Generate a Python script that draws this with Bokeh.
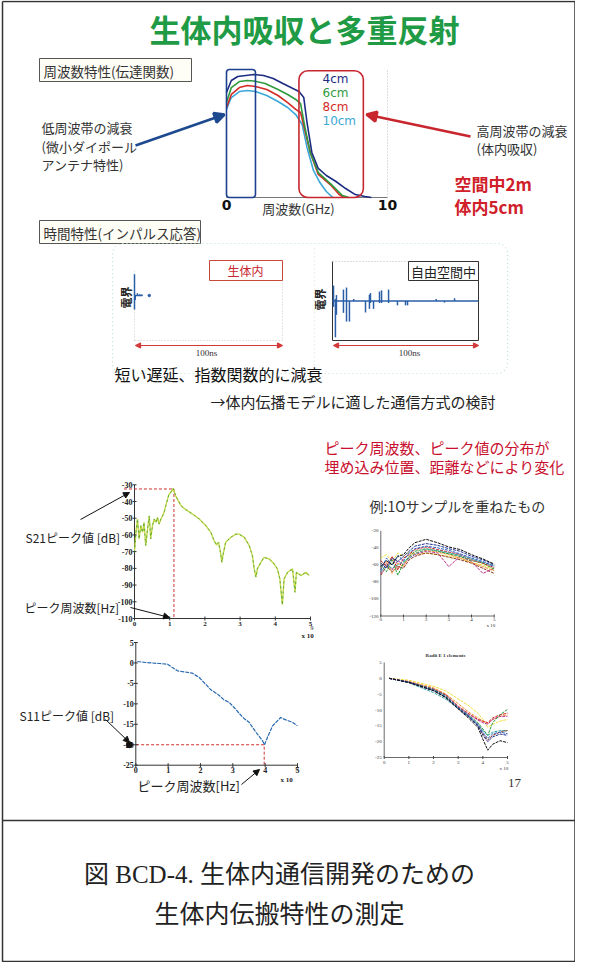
import numpy as np
from bokeh.plotting import figure
from bokeh.models import Range1d, Arrow, VeeHead, NormalHead
from bokeh.embed import file_html
from bokeh.resources import INLINE
from bokeh.core.properties import value

JP = "Noto Sans CJK JP"
SERIF = "Liberation Serif, Noto Sans CJK JP"

# ================= DATA =================
title_text = "生体内吸収と多重反射"

# --- transfer function (relative level) vs frequency [GHz] ---
tf_f_4cm = [0, 0.3, 0.7, 1.2, 1.7, 2.3, 2.9, 3.5, 4.0, 4.5, 4.8, 5.0, 5.3, 5.7, 6.2, 6.8, 7.4, 8.0, 8.6, 9.0]
tf_l_4cm = [82, 91.4, 94.5, 95.3, 96.1, 95.3, 93, 89, 85.9, 82.8, 78.1, 58.6, 35.2, 22.7, 17.2, 12.5, 7, 2.3, 0.8, 0]
tf_f_6cm = [0, 0.3, 0.8, 1.3, 1.7, 2.4, 3.2, 3.8, 4.3, 4.6, 4.9, 5.2, 5.7, 6.5, 7.2, 7.6]
tf_l_6cm = [74.2, 85.9, 90.6, 91.4, 91, 89.1, 84.4, 80.5, 76.6, 73.4, 53.1, 35.2, 19.5, 10.2, 1.6, 0]
tf_f_8cm = [0, 0.3, 0.8, 1.3, 1.8, 2.5, 3.2, 3.8, 4.3, 4.6, 4.9, 5.2, 5.7, 6.5, 7.0, 7.3]
tf_l_8cm = [70.3, 80.5, 85.9, 87.5, 86.7, 84.4, 79.7, 74.2, 68.8, 66.4, 50.8, 35.2, 18, 9.4, 2.3, 0]
tf_f_10cm = [0, 0.3, 0.8, 1.3, 1.8, 2.5, 3.2, 3.8, 4.3, 4.7, 5.0, 5.4, 5.8, 6.2, 6.6]
tf_l_10cm = [68.8, 78.1, 82.8, 83.6, 82.8, 79.7, 75, 70.3, 64.8, 57, 39.1, 21.1, 11.7, 4.7, 0]
tf_labels = ["4cm", "6cm", "8cm", "10cm"]
tf_colors = ["#1c2c82", "#2e9a3e", "#d32a26", "#3aa8d8"]
tf_xticks = [0, 10]
low_band = [0, 1.8]
high_band = [4.5, 8.5]

# --- impulse responses: time [ns], amplitude ---
body_t = [0.0, 0.5, 2.0, 3.5, 5.0]
body_up = [0.47, 0.0, 0.05, 0.03, 0.02]
body_down = [-0.31, -0.10, 0.0, 0.0, 0.0]
body_dot_t = [10.0]
free_t = [0.7, 2.0, 2.7, 7.5, 9.6, 11.6, 14.5, 22.6, 25.3, 26.0, 28.1, 32.2, 33.6, 38.4, 44.5, 50.0, 51.4, 71.0, 76.7, 83.6]
free_up = [0.39, 0.05, 0.15, 0.29, 0.34, 0.0, 0.05, 0.0, 0.16, 0.20, 0.0, 0.24, 0.27, 0.29, 0.0, 0.0, 0.0, 0.05, 0.0, 0.07]
free_down = [-0.15, -0.92, -0.35, -0.30, -0.52, -0.52, 0.0, -0.29, -0.20, -0.05, -0.20, -0.05, -0.05, -0.05, -0.11, -0.11, -0.11, 0.0, -0.04, 0.0]

# --- S21 vs frequency (x1e9 Hz) ---
s21_f = [0.0, 0.04, 0.085, 0.13, 0.18, 0.23, 0.27, 0.32, 0.37, 0.42, 0.46, 0.51, 0.56, 0.61, 0.65, 0.70, 0.75, 0.80,
         0.84, 0.89, 0.94, 0.98, 1.03, 1.10, 1.17, 1.32, 1.46, 1.65, 1.84, 2.03, 2.17, 2.26, 2.33, 2.39, 2.45, 2.48,
         2.52, 2.59, 2.74, 2.88, 2.97, 3.12, 3.26, 3.35, 3.40, 3.45, 3.49, 3.59, 3.68, 3.83, 3.97, 4.06, 4.13, 4.20,
         4.25, 4.35, 4.49, 4.56, 4.60, 4.73, 4.87, 4.96]
s21_db = [-70.4, -58.5, -50.5, -62.4, -54.5, -58.5, -52.5, -66.4, -56.5, -48.5, -62.4, -54.5, -50.5, -52.5, -49.5,
          -53.5, -50.5, -48.5, -46.5, -42.5, -38.6, -35.6, -34.6, -32.2, -36.6, -42.5, -44.9, -47.5, -50.5, -54.5,
          -58.5, -63.4, -66.0, -64.4, -71.4, -76.4, -71.4, -64.4, -61.4, -59.5, -59.5, -61.4, -66.4, -72.4, -80.3,
          -85.3, -80.3, -76.4, -73.4, -74.4, -77.4, -80.3, -86.3, -101.8, -86.3, -82.3, -80.3, -94.3, -82.3, -84.3,
          -82.3, -84.3]
s21_peak_f = 1.12
s21_peak_db = -32.5
s21_yticks = [-30, -40, -50, -60, -70, -80, -90, -100, -110]
s21_xticks = [0, 1, 2, 3, 4, 5]

# --- S11 vs frequency (x1e9 Hz) ---
s11_f = [0.05, 0.31, 0.72, 0.98, 1.13, 1.29, 1.49, 1.75, 1.96, 2.16, 2.32, 2.53, 2.73, 2.89, 3.04, 3.20, 3.35, 3.51,
         3.61, 3.76, 3.92, 3.98, 4.07, 4.23, 4.38, 4.48, 4.64, 4.85, 5.0]
s11_db = [0.35, 0.11, -0.13, -0.30, -1.11, -1.93, -2.17, -2.50, -3.56, -5.19, -6.57, -7.63, -9.02, -9.67, -10.89,
          -12.36, -13.58, -14.56, -15.78, -17.41, -19.04, -20.0, -18.23, -15.37, -14.15, -13.34, -13.91, -14.56, -15.37]
s11_peak_f = 3.97
s11_peak_db = -20.0
s11_yticks = [5, 0, -5, -10, -15, -20, -25]
s11_xticks = [0, 1, 2, 3, 4, 5]

# --- 10 overlaid samples: S21 ---
samp_f = [0, 0.25, 0.5, 0.75, 1.0, 1.25, 1.5, 2.0, 2.5, 3.0, 3.5, 4.0, 4.5, 5.0]
samp21_1 = [-62, -55, -60, -50, -48, -40, -34, -30, -34, -39, -42, -48, -53, -59]
samp21_2 = [-58, -64, -52, -56, -50, -44, -38, -35, -37, -41, -44, -50, -54, -60]
samp21_3 = [-66, -52, -60, -49, -55, -46, -41, -38, -40, -43, -47, -52, -56, -62]
samp21_4 = [-55, -62, -50, -66, -52, -48, -42, -39, -42, -45, -48, -54, -58, -63]
samp21_5 = [-70, -58, -66, -55, -60, -52, -48, -44, -46, -62, -50, -56, -70, -64]
samp21_6 = [-60, -68, -54, -72, -58, -50, -44, -41, -44, -47, -50, -55, -58, -65]
samp21_7 = [-52, -48, -56, -46, -50, -45, -48, -46, -48, -50, -52, -58, -60, -66]
samp21_8 = [-64, -56, -70, -58, -62, -50, -46, -43, -45, -48, -52, -57, -62, -67]
samp21_9 = [-68, -60, -64, -60, -56, -52, -47, -42, -43, -46, -49, -53, -57, -61]
samp21_10 = [-72, -62, -68, -62, -64, -54, -50, -46, -48, -51, -54, -58, -64, -70]
samp21_yticks = [-20, -40, -60, -80, -100, -120]
samp_xticks = [0, 1, 2, 3, 4, 5]

# --- 10 overlaid samples: S11 ---
samp11_f = [0.2, 1.0, 2.0, 2.5, 3.0, 3.4, 3.8, 4.0, 4.2, 4.4, 4.7, 5.0]
samp11_1 = [0.0, -1.3, -3.9, -6.1, -9.7, -12.4, -15.5, -19.2, -22.7, -20.8, -19.7, -20.3]
samp11_2 = [0.0, -1.3, -3.9, -6.0, -9.5, -12.0, -15.0, -18.0, -20.0, -18.5, -17.6, -18.0]
samp11_3 = [0.0, -1.2, -3.7, -5.8, -9.3, -11.6, -14.5, -17.0, -19.0, -17.5, -17.0, -17.5]
samp11_4 = [0.0, -1.1, -3.4, -5.2, -8.8, -11.0, -13.0, -13.5, -14.0, -12.5, -11.5, -11.0]
samp11_5 = [0.0, -1.1, -3.4, -5.3, -9.0, -11.2, -13.2, -14.0, -14.5, -13.0, -12.0, -12.0]
samp11_6 = [0.0, -1.2, -3.5, -5.5, -9.2, -11.5, -14.0, -16.0, -18.0, -14.0, -11.5, -9.8]
samp11_7 = [0.0, -0.6, -2.5, -4.0, -6.5, -8.5, -11.0, -13.0, -15.5, -14.5, -13.5, -13.0]
samp11_8 = [0.0, -1.0, -3.0, -5.0, -8.0, -10.5, -12.5, -13.5, -14.2, -13.0, -12.0, -11.5]
samp11_9 = [0.0, -1.4, -4.5, -6.6, -9.5, -12.0, -14.5, -16.5, -18.0, -17.0, -16.5, -16.5]
samp11_10 = [0.0, -1.3, -3.8, -6.0, -9.4, -11.8, -14.8, -17.5, -19.5, -18.0, -17.0, -16.5]
samp11_yticks = [5, 0, -5, -10, -15, -20, -25]
samp_colors = ["#111111", "#1f2f8f", "#2a62c9", "#d02020", "#c03090", "#2a9a3a", "#f0e040", "#f09030", "#30a0a0", "#8a3a2a"]

# ================= FIGURE =================
p = figure(width=575, height=962, x_range=Range1d(8, 583), y_range=Range1d(970, 8),
           output_backend="svg", toolbar_location=None, min_border=0)
p.axis.visible = False
p.grid.visible = False
p.outline_line_color = None
p.background_fill_color = "white"


def txt(target, x, y, s, size, color="#222222", align="left", font=JP, style="normal", angle=0.0, baseline="middle"):
    target.text(x=x if isinstance(x, list) else [x], y=y if isinstance(y, list) else [y],
                text=s if isinstance(s, list) else [s], text_font=value(font), text_font_size=size,
                text_color=color, text_align=align, text_baseline=baseline, text_font_style=style, angle=angle)


def arrow(x0, y0, x1, y1, color, w=1.0, size=7, both=False, head="vee"):
    H = VeeHead if head == "vee" else NormalHead
    end = H(size=size, line_color=color, fill_color=color, line_width=w)
    start = H(size=size, line_color=color, fill_color=color, line_width=w) if both else None
    a = Arrow(end=end, start=start, x_start=x0, y_start=y0, x_end=x1, y_end=y1, line_color=color, line_width=w)
    p.add_layout(a)


# page frame
p.line([10, 582.5, 582.5, 10, 10], [9, 9, 969, 969, 9], line_color="#333333", line_width=1.5)
p.line([10, 582.5], [828, 828], line_color="#333333", line_width=1.5)

# title
txt(p, 312, 36, title_text, "31px", color="#1f9a45", align="center", style="bold")

# section boxes
p.quad(left=[47], right=[199], top=[66], bottom=[89], fill_color="#fffef6", line_color="#555555", line_width=1)
txt(p, 51, 78, "周波数特性(伝達関数)", "13.5px", color="#333333")
p.quad(left=[47], right=[208], top=[228], bottom=[251], fill_color="#fffef6", line_color="#555555", line_width=1)
txt(p, 51, 240, "時間特性(インパルス応答)", "13.5px", color="#333333")

# ---------- transfer function plot ----------
sp1 = p.subplot(x_source=Range1d(0, 10), y_source=Range1d(0, 100),
                x_target=Range1d(234, 395), y_target=Range1d(205, 77))
sp1.line([0, 10], [0, 0], line_color="#777777", line_width=1)
sp1.line([0, 0], [0, 100], line_color="#bbbbbb", line_width=1, line_dash="1 2")
sp1.line([10, 10], [0, 100], line_color="#bbbbbb", line_width=1, line_dash="1 2")
for fx, lv, c in [(tf_f_10cm, tf_l_10cm, tf_colors[3]), (tf_f_8cm, tf_l_8cm, tf_colors[2]),
                  (tf_f_6cm, tf_l_6cm, tf_colors[1]), (tf_f_4cm, tf_l_4cm, tf_colors[0])]:
    sp1.line(fx, lv, line_color=c, line_width=1.6)
sp1.quad(left=[low_band[0]], right=[low_band[1]], bottom=[0], top=[100], fill_color=None,
         line_color="#1d3f8f", line_width=1.6, border_radius=3)
sp1.quad(left=[high_band[0]], right=[high_band[1]], bottom=[0], top=[99], fill_color=None,
         line_color="#c8262e", line_width=1.6, border_radius=9)
sp1.text(x=tf_xticks, y=[-6, -6], text=[str(t) for t in tf_xticks], text_font=value("DejaVu Sans"),
         text_font_size="14px", text_font_style="bold", text_align="center", text_baseline="middle",
         text_color="#111111")
txt(p, 306, 216, "周波数(GHz)", "13px", color="#333333", align="center")
for i, (lab, c) in enumerate(zip(tf_labels, tf_colors)):
    txt(p, 330, 86 + i * 14, lab, "12px", color=c, font="DejaVu Sans")

arrow(143, 153, 232, 122, "#1d4a8f", w=2.6, size=10, head="normal")
arrow(478, 144, 374, 122, "#c8262e", w=2.6, size=10, head="normal")
txt(p, 49, 135, "低周波帯の減衰", "13px", color="#333333")
txt(p, 49, 154, "(微小ダイポール", "13px", color="#333333")
txt(p, 49, 172, "アンテナ特性)", "13px", color="#333333")
txt(p, 484, 138, "高周波帯の減衰", "13px", color="#333333")
txt(p, 484, 156, "(体内吸収)", "13px", color="#333333")
txt(p, 462, 191, "空間中2m", "17px", color="#d0202a", style="bold")
txt(p, 462, 214, "体内5cm", "17px", color="#d0202a", style="bold")

# ---------- impulse responses ----------
p.quad(left=[120], right=[515], top=[251], bottom=[381], fill_color=None, line_color="#bfe3c6",
       line_width=1.2, line_dash="1 3", border_radius=10)
p.line([322, 322], [256, 378], line_color="#cfead3", line_width=1.2, line_dash="1 3")

spb = p.subplot(x_source=Range1d(0, 100), y_source=Range1d(-1, 1),
                x_target=Range1d(142, 290), y_target=Range1d(348, 258))
spb.line([0, 100, 100], [-1, -1, 0.55], line_color="#c8c8c8", line_width=1, line_dash="1 2")
spb.line([0, 0], [-1, 0.55], line_color="#c8c8c8", line_width=1, line_dash="1 2")
spb.segment(x0=body_t, y0=[0] * len(body_t), x1=body_t, y1=body_up, line_color="#2a5fa8", line_width=1.5)
spb.segment(x0=body_t, y0=[0] * len(body_t), x1=body_t, y1=body_down, line_color="#2a5fa8", line_width=1.5)
spb.line([0, 5.5], [0, 0], line_color="#2a5fa8", line_width=1.5)
spb.scatter(body_dot_t, [0], size=2.5, color="#2a5fa8")
p.quad(left=[217], right=[290], top=[268], bottom=[288], fill_color="white", line_color="#c8483a", line_width=1)
txt(p, 253, 278, "生体内", "12px", color="#c8262e", align="center")
txt(p, 133, 305, "電界", "11px", color="#222222", align="center", style="bold", angle=np.pi / 2)
arrow(143, 353, 290, 353, "#d23a3a", w=1.2, size=5, both=True, head="normal")
txt(p, 214, 360, "100ns", "9px", color="#333333", align="center", font=SERIF)

spf = p.subplot(x_source=Range1d(0, 100), y_source=Range1d(-1, 1),
                x_target=Range1d(340, 486), y_target=Range1d(348, 269))
spf.line([0, 0, 100, 100], [1, -1, -1, 1], line_color="#333333", line_width=1)
spf.line([0, 100], [1, 1], line_color="#aaaaaa", line_width=0.8, line_dash="1 2")
spf.line([0, 100], [0, 0], line_color="#2a5fa8", line_width=1.4)
spf.segment(x0=free_t, y0=[0] * len(free_t), x1=free_t, y1=free_up, line_color="#2a5fa8", line_width=1.5)
spf.segment(x0=free_t, y0=[0] * len(free_t), x1=free_t, y1=free_down, line_color="#2a5fa8", line_width=1.5)
p.quad(left=[416], right=[486], top=[269], bottom=[288], fill_color="white", line_color="#333333", line_width=1)
txt(p, 451, 279, "自由空間中", "13px", color="#222222", align="center")
txt(p, 327, 307, "電界", "11px", color="#222222", align="center", style="bold", angle=np.pi / 2)
arrow(341, 353, 486, 353, "#d23a3a", w=1.2, size=5, both=True, head="normal")
txt(p, 417, 360, "100ns", "9px", color="#333333", align="center", font=SERIF)

txt(p, 122, 381, "短い遅延、指数関数的に減衰", "16px", color="#111111")
txt(p, 218, 409, "→体内伝播モデルに適した通信方式の検討", "15px", color="#222222")

# ---------- red remarks ----------
txt(p, 332, 455, "ピーク周波数、ピーク値の分布が", "15px", color="#c8102e")
txt(p, 332, 474, "埋め込み位置、距離などにより変化", "15px", color="#c8102e")
txt(p, 377, 513, "例:1Oサンプルを重ねたもの", "14px", color="#333333")

# ---------- S21 plot ----------
sp21 = p.subplot(x_source=Range1d(0, 5), y_source=Range1d(-110, -30),
                 x_target=Range1d(142, 318), y_target=Range1d(626, 492.3))
sp21.line([0, 0, 5], [-30, -110, -110], line_color="#333333", line_width=1)
sp21.line([-0.3, s21_peak_f, s21_peak_f], [s21_peak_db, s21_peak_db, -110], line_color="#d03030",
          line_width=1, line_dash="3 2")
sp21.line(s21_f, s21_db, line_color="#c6d94a", line_width=1.4)
sp21.line(s21_f, s21_db, line_color="#3f9e3a", line_width=0.8, line_dash="2 3")
sp21.text(x=[-0.06] * len(s21_yticks), y=s21_yticks, text=[str(v) for v in s21_yticks],
          text_font=value("Liberation Serif"), text_font_size="8px", text_align="right",
          text_baseline="middle", text_color="#222222", text_font_style="bold")
sp21.text(x=s21_xticks, y=[-113.5] * len(s21_xticks), text=[str(v) for v in s21_xticks],
          text_font=value("Liberation Serif"), text_font_size="7px", text_align="center",
          text_baseline="middle", text_color="#222222", text_font_style="bold")
sp21.scatter(s21_xticks, [-110] * len(s21_xticks), marker="dash", angle=np.pi / 2, size=4, color="#333333")
sp21.scatter([0] * len(s21_yticks), s21_yticks, marker="dash", size=4, color="#333333")
txt(p, 309, 643, "x 10", "7px", color="#222222", font="Liberation Serif", style="bold")
txt(p, 318, 635, "9", "6px", color="#222222", font="Liberation Serif")
txt(p, 33, 545, "S21ピーク値 [dB]", "12px", color="#222222")
txt(p, 32, 615, "ピーク周波数[Hz]", "12px", color="#222222")
arrow(88, 527, 137, 500, "#111111", w=1.0, size=6, head="normal")
arrow(138, 615, 177, 625, "#111111", w=1.0, size=6, head="normal")

# ---------- S11 plot ----------
sp11 = p.subplot(x_source=Range1d(0, 5), y_source=Range1d(-25, 5),
                 x_target=Range1d(143.3, 305), y_target=Range1d(772.7, 650))
sp11.line([0, 0, 5], [5, -25, -25], line_color="#333333", line_width=1)
sp11.line([-0.3, s11_peak_f, s11_peak_f], [s11_peak_db, s11_peak_db, -25], line_color="#d03030",
          line_width=1, line_dash="3 2")
sp11.line(s11_f, s11_db, line_color="#2a6bb0", line_width=1.2, line_dash="4 1")
sp11.text(x=[-0.06] * len(s11_yticks), y=s11_yticks, text=[str(v) for v in s11_yticks],
          text_font=value("Liberation Serif"), text_font_size="8px", text_align="right",
          text_baseline="middle", text_color="#222222", text_font_style="bold")
sp11.text(x=s11_xticks, y=[-26.2] * len(s11_xticks), text=[str(v) for v in s11_xticks],
          text_font=value("Liberation Serif"), text_font_size="8px", text_align="center",
          text_baseline="middle", text_color="#222222", text_font_style="bold")
sp11.scatter(s11_xticks, [-25] * len(s11_xticks), marker="dash", angle=np.pi / 2, size=4, color="#333333")
sp11.scatter([0] * len(s11_yticks), s11_yticks, marker="dash", size=4, color="#333333")
sp11.scatter([-0.2], [s11_peak_db], size=6, color="#111111")
txt(p, 288, 787, "x 10", "7px", color="#222222", font="Liberation Serif", style="bold")
txt(p, 303, 776, "9", "6px", color="#222222", font="Liberation Serif")
txt(p, 27, 723, "S11ピーク値 [dB]", "12px", color="#222222")
txt(p, 145, 793, "ピーク周波数[Hz]", "13px", color="#222222")
arrow(113, 727, 137, 750, "#111111", w=1.0, size=6, head="normal")
arrow(249, 792, 267, 777, "#111111", w=1.0, size=6, head="normal")

# ---------- 10 samples S21 ----------
spr1 = p.subplot(x_source=Range1d(0, 5), y_source=Range1d(-120, -20),
                 x_target=Range1d(388.3, 501.7), y_target=Range1d(623.5, 538.3))
spr1.line([0, 0, 5], [-20, -120, -120], line_color="#444444", line_width=0.8)
for s, c in zip([samp21_7, samp21_10, samp21_5, samp21_8, samp21_6, samp21_4, samp21_9, samp21_3, samp21_2, samp21_1],
                [samp_colors[6], samp_colors[9], samp_colors[4], samp_colors[7], samp_colors[5], samp_colors[3],
                 samp_colors[8], samp_colors[2], samp_colors[1], samp_colors[0]]):
    spr1.line(samp_f, s, line_color=c, line_width=1.0, line_dash="3 1")
spr1.text(x=[-0.1] * len(samp21_yticks), y=samp21_yticks, text=[str(v) for v in samp21_yticks],
          text_font=value("Liberation Serif"), text_font_size="5px", text_align="right",
          text_baseline="middle", text_color="#333333")
spr1.text(x=samp_xticks, y=[-124] * len(samp_xticks), text=[str(v) for v in samp_xticks],
          text_font=value("Liberation Serif"), text_font_size="5px", text_align="center",
          text_baseline="middle", text_color="#333333")
spr1.scatter(samp_xticks, [-120] * len(samp_xticks), marker="dash", angle=np.pi / 2, size=3, color="#444444")
txt(p, 494, 633, "x 10", "5px", color="#333333", font="Liberation Serif")

# ---------- 10 samples S11 ----------
spr2 = p.subplot(x_source=Range1d(0, 5), y_source=Range1d(-25, 5),
                 x_target=Range1d(391.7, 515), y_target=Range1d(765, 670))
spr2.line([0, 0, 5], [5, -25, -25], line_color="#444444", line_width=0.8)
for s, c in zip([samp11_7, samp11_8, samp11_4, samp11_5, samp11_6, samp11_9, samp11_10, samp11_3, samp11_2, samp11_1],
                [samp_colors[6], samp_colors[7], samp_colors[3], samp_colors[4], samp_colors[5], samp_colors[8],
                 samp_colors[9], samp_colors[2], samp_colors[1], samp_colors[0]]):
    spr2.line(samp11_f, s, line_color=c, line_width=1.0, line_dash="3 1")
spr2.text(x=[-0.1] * len(samp11_yticks), y=samp11_yticks, text=[str(v) for v in samp11_yticks],
          text_font=value("Liberation Serif"), text_font_size="5px", text_align="right",
          text_baseline="middle", text_color="#333333")
spr2.text(x=samp_xticks, y=[-26.5] * len(samp_xticks), text=[str(v) for v in samp_xticks],
          text_font=value("Liberation Serif"), text_font_size="5px", text_align="center",
          text_baseline="middle", text_color="#333333")
spr2.scatter(samp_xticks, [-25] * len(samp_xticks), marker="dash", angle=np.pi / 2, size=3, color="#444444")
txt(p, 453, 663, "Radii E 1 elements", "5px", color="#333333", align="center", font="Liberation Serif", style="bold")
txt(p, 507, 776, "x 10", "5px", color="#333333", font="Liberation Serif")
txt(p, 522, 790, "17", "13px", color="#333333", align="center", font="Liberation Serif")

# ---------- caption ----------
txt(p, 287, 882, "図 BCD-4. 生体内通信開発のための", "25px", color="#222222", align="center", font=SERIF)
txt(p, 287, 922, "生体内伝搬特性の測定", "25px", color="#222222", align="center", font=SERIF)

open("out.html", "w").write(file_html(p, INLINE))
